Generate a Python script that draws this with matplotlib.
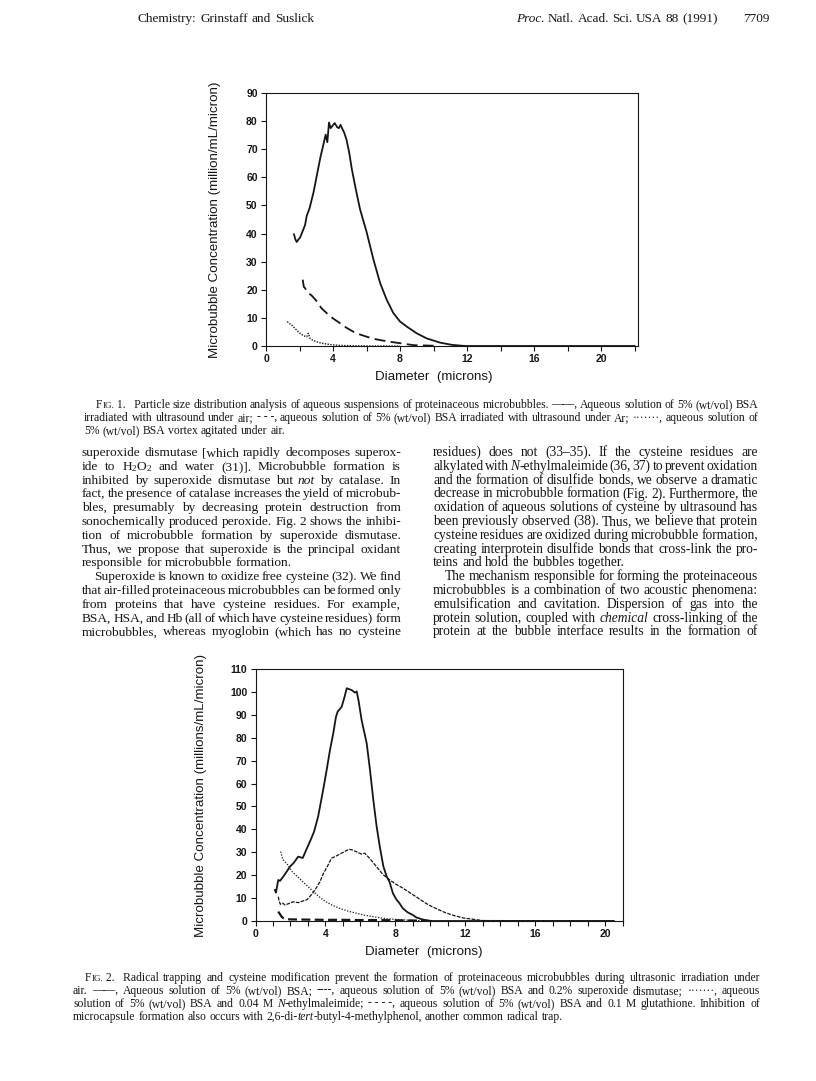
import matplotlib
matplotlib.use("Agg")
import matplotlib.pyplot as plt
from matplotlib.ticker import MultipleLocator

W, H, DPI = 816, 1081, 100
SERIF = "Liberation Serif"
SANS = "Liberation Sans"
INK = "#161616"

# ---- Fig. 1 data (diameter in microns, concentration in million/mL/micron)
air_x = [1.67, 1.75, 1.83, 1.95, 2.03, 2.23, 2.33, 2.43, 2.6, 2.83, 2.93, 3.06, 3.26, 3.4, 3.56,
         3.66, 3.76, 3.86, 4.0, 4.1, 4.25, 4.35, 4.45, 4.55, 4.66, 4.8, 4.96, 5.12, 5.35, 5.61,
         6.01, 6.41, 6.81, 7.2, 7.6, 8.0, 8.4, 9.0, 9.59, 10.39, 11.1, 11.9, 22.0]
air_y = [39.7, 38.0, 37.0, 38.0, 38.5, 41.5, 43.0, 46.3, 49.0, 54.5, 57.5, 61.5, 67.5, 71.0, 75.2,
         72.5, 79.5, 77.5, 78.6, 79.3, 77.8, 77.5, 78.7, 77.3, 76.0, 73.5, 69.0, 63.0, 56.0, 48.7,
         40.4, 30.8, 22.4, 16.5, 11.7, 8.7, 6.9, 4.5, 2.7, 1.2, 0.4, 0.0, 0.0]

argon_x = [2.19, 2.26, 2.33, 2.43, 2.53, 2.75, 3.03, 3.3, 3.62, 4.0, 4.42, 4.8, 5.21, 5.6, 6.01,
           6.4, 6.81, 7.4, 8.0, 8.8, 9.4, 10.0]
argon_y = [23.6, 21.0, 20.6, 19.5, 18.9, 17.8, 15.9, 13.5, 11.7, 9.8, 8.1, 6.5, 5.1, 4.1, 3.3,
           2.6, 2.1, 1.5, 1.0, 0.3, 0.2, 0.1]

vortex_x = [1.27, 1.4, 1.53, 1.63, 1.73, 1.85, 2.03, 2.25, 2.43, 2.5, 2.53, 2.63, 2.8, 3.03, 3.3,
            3.62, 4.0, 4.42, 5.4, 6.5, 8.0]
vortex_y = [8.7, 8.0, 7.5, 6.8, 6.3, 5.5, 4.5, 3.6, 3.3, 4.3, 4.5, 2.7, 2.0, 1.5, 1.0,
            0.7, 0.4, 0.2, 0.05, 0.0, 0.0]

# ---- Fig. 2 data
bsa_x = [1.11, 1.17, 1.3, 1.4, 1.6, 1.78, 1.97, 2.2, 2.44, 2.7, 2.9, 3.11, 3.35, 3.58, 3.87, 4.07,
         4.26, 4.45, 4.6, 4.7, 4.93, 5.1, 5.22, 5.5, 5.69, 5.79, 5.9, 6.07, 6.36, 6.55, 6.74, 6.93,
         7.12, 7.31, 7.5, 7.67, 7.86, 8.05, 8.24, 8.43, 8.7, 9.0, 9.19, 9.5, 9.77, 10.1, 20.5]
bsa_y = [13.5, 12.4, 17.9, 17.5, 19.5, 21.5, 23.7, 25.5, 28.1, 27.5, 31.0, 34.6, 39.0, 45.5, 57.2, 65.9,
         74.6, 82.0, 89.0, 91.4, 93.5, 98.0, 101.6, 100.8, 99.7, 100.2, 96.0, 87.7, 77.6, 65.9, 52.8, 41.2,
         32.0, 24.0, 19.5, 17.0, 12.1, 9.5, 7.7, 5.5, 3.8, 2.6, 1.6, 0.8, 0.3, 0.0, 0.0]

sod_x = [1.3, 1.36, 1.42, 1.55, 1.69, 1.9, 2.16, 2.45, 2.73, 2.95, 3.2, 3.4, 3.68, 3.87, 4.15, 4.35,
         4.6, 4.92, 5.15, 5.35, 5.55, 5.75, 6.06, 6.25, 6.45, 6.72, 7.0, 7.29, 7.67, 8.0, 8.4, 8.9,
         9.4, 9.9, 10.4, 10.9, 11.4, 11.9, 12.4, 13.0, 20.5]
sod_y = [10.6, 8.5, 7.3, 7.8, 7.0, 7.6, 8.4, 8.0, 8.8, 9.3, 11.5, 13.5, 17.0, 20.5, 24.4, 27.4,
         28.3, 29.6, 30.5, 31.3, 31.0, 30.3, 29.2, 29.6, 28.0, 25.6, 23.0, 20.3, 18.0, 16.2, 14.5, 12.0,
         9.5, 7.0, 5.2, 3.5, 2.3, 1.3, 0.8, 0.2, 0.0]

nem_x = [1.44, 1.55, 1.78, 2.1, 2.44, 2.8, 3.11, 3.5, 3.87, 4.3, 4.82, 5.3, 5.77, 6.2, 6.72, 7.2,
         7.67, 8.2, 8.62, 9.2, 10.0]
nem_y = [30.3, 27.0, 25.2, 21.5, 19.1, 16.5, 14.3, 11.5, 9.2, 7.2, 5.5, 4.3, 3.4, 2.6, 1.9, 1.3,
         0.9, 0.6, 0.4, 0.2, 0.0]

glu_x = [1.3, 1.4, 1.49, 1.6, 1.68, 2.0, 3.0, 4.0, 5.0, 6.0, 7.0, 8.0, 9.0, 9.9]
glu_y = [4.1, 3.0, 1.9, 1.2, 0.9, 0.7, 0.6, 0.5, 0.5, 0.4, 0.4, 0.3, 0.2, 0.1]

xtick_labels = ["0", "4", "8", "12", "16", "20"]
fig1_yticks = [0, 10, 20, 30, 40, 50, 60, 70, 80, 90]
fig2_yticks = [0, 10, 20, 30, 40, 50, 60, 70, 80, 90, 100, 110]

# ---- page text
header_left = "Chemistry: Grinstaff and Suslick"
header_right = "*Proc. Natl. Acad. Sci. USA 88 (1991)*"
page_no = "7709"

cap1 = [
    "\tF~ig.~\u00a01.\u00a0\u00a0\u00a0Particle size distribution analysis of aqueous suspensions of proteinaceous microbubbles. \u2014\u2014, Aqueous solution of 5% (wt/vol) BSA",
    "irradiated with ultrasound under air; -\u00a0-\u00a0-, aqueous solution of 5% (wt/vol) BSA irradiated with ultrasound under Ar; \u00b7\u00b7\u00b7\u00b7\u00b7\u00b7\u00b7, aqueous solution of",
    "5% (wt/vol) BSA vortex agitated under air.|",
]
cap2 = [
    "\tF~ig.~\u00a02.\u00a0\u00a0\u00a0Radical trapping and cysteine modification prevent the formation of proteinaceous microbubbles during ultrasonic irradiation under",
    "air. \u2014\u2014, Aqueous solution of 5% (wt/vol) BSA; ----, aqueous solution of 5% (wt/vol) BSA and 0.2% superoxide dismutase; \u00b7\u00b7\u00b7\u00b7\u00b7\u00b7\u00b7, aqueous",
    "solution of 5% (wt/vol) BSA and 0.04 M *N*-ethylmaleimide; -\u00a0-\u00a0-\u00a0-, aqueous solution of 5% (wt/vol) BSA and 0.1 M glutathione. Inhibition of",
    "microcapsule formation also occurs with 2,6-di-*tert*-butyl-4-methylphenol, another common radical trap.|",
]
col_left = [
    "superoxide dismutase [which rapidly decomposes superox-",
    "ide to H$_2$O$_2$ and water (31)]. Microbubble formation is",
    "inhibited by superoxide dismutase but *not* by catalase. In",
    "fact, the presence of catalase increases the yield of microbub-",
    "bles, presumably by decreasing protein destruction from",
    "sonochemically produced peroxide. Fig. 2 shows the inhibi-",
    "tion of microbubble formation by superoxide dismutase.",
    "Thus, we propose that superoxide is the principal oxidant",
    "responsible for microbubble formation.|",
    "\tSuperoxide is known to oxidize free cysteine (32). We find",
    "that air-filled proteinaceous microbubbles can be formed only",
    "from proteins that have cysteine residues. For example,",
    "BSA, HSA, and Hb (all of which have cysteine residues) form",
    "microbubbles, whereas myoglobin (which has no cysteine",
]
col_right = [
    "residues) does not (33\u201335). If the cysteine residues are",
    "alkylated with *N*-ethylmaleimide (36, 37) to prevent oxidation",
    "and the formation of disulfide bonds, we observe a dramatic",
    "decrease in microbubble formation (Fig. 2). Furthermore, the",
    "oxidation of aqueous solutions of cysteine by ultrasound has",
    "been previously observed (38). Thus, we believe that protein",
    "cysteine residues are oxidized during microbubble formation,",
    "creating interprotein disulfide bonds that cross-link the pro-",
    "teins and hold the bubbles together.|",
    "\tThe mechanism responsible for forming the proteinaceous",
    "microbubbles is a combination of two acoustic phenomena:",
    "emulsification and cavitation. Dispersion of gas into the",
    "protein solution, coupled with *chemical* cross-linking of the",
    "protein at the bubble interface results in the formation of",
]

plt.rcParams["mathtext.fontset"] = "custom"
plt.rcParams["mathtext.rm"] = SERIF
plt.rcParams["mathtext.it"] = SERIF + ":italic"

fig = plt.figure(figsize=(W / DPI, H / DPI), dpi=DPI)
fig.patch.set_facecolor("white")
renderer = fig.canvas.get_renderer()


def pos(x, y):
    return x / W, 1 - y / H


def word_parts(word, size):
    parts, buf, ital, small = [], "", False, False
    for ch in word:
        if ch in "*~":
            if buf:
                parts.append((buf.upper() if small else buf, ital, size * 0.78 if small else size))
            buf = ""
            if ch == "*":
                ital = not ital
            else:
                small = not small
        else:
            buf += ch
    if buf:
        parts.append((buf.upper() if small else buf, ital, size * 0.78 if small else size))
    return parts


def measure(s, ital, size):
    t = fig.text(0, 0, s, fontsize=size, family=SERIF, style="italic" if ital else "normal")
    w = t.get_window_extent(renderer).width
    t.remove()
    return w


def prep(line, size):
    words = []
    for w in line.split(" "):
        if not w:
            continue
        parts = word_parts(w, size)
        widths = [measure(s, it, sz) for s, it, sz in parts]
        words.append((parts, widths))
    return words


def text_block(lines, x0, x1, y0, dy, size, indent=12, min_gap=0.1):
    # one size for the whole block: the largest at which every justified line fits
    for line in lines:
        if line.endswith("|"):
            continue
        ind = indent if line.startswith("\t") else 0
        words = prep(line.strip("\t"), size)
        total = sum(sum(ws) for _, ws in words)
        need = total + min_gap * size * DPI / 72 * (len(words) - 1)
        if need > x1 - x0 - ind:
            size = size * (x1 - x0 - ind) / need
    for i, line in enumerate(lines):
        ragged = line.endswith("|")
        ind = indent if line.startswith("\t") else 0
        words = prep(line.strip("\t|"), size)
        total = sum(sum(ws) for _, ws in words)
        if ragged or len(words) < 2:
            gap = 0.25 * size * DPI / 72
        else:
            gap = (x1 - x0 - ind - total) / (len(words) - 1)
        x = x0 + ind
        y = y0 + i * dy
        for parts, widths in words:
            xx = x
            for (s, it, psz), w in zip(parts, widths):
                fig.text(*pos(xx, y), s, fontsize=psz, family=SERIF, color=INK,
                         style="italic" if it else "normal", ha="left", va="baseline")
                xx += w
            x += sum(widths) + gap


def chart(l, t, r, b, xmax, ymax, xminor, yticks, ylabel, ylab_x, xlab_x, xlab_y):
    ax = fig.add_axes([l / W, 1 - b / H, (r - l) / W, (b - t) / H])
    ax.set_xlim(0, xmax)
    ax.set_ylim(0, ymax)
    ax.set_xticks([float(v) for v in xtick_labels], xtick_labels,
                  fontsize=7.5, fontweight="bold", family=SANS)
    ax.set_yticks(yticks, [str(v) for v in yticks], fontsize=7.5, fontweight="bold", family=SANS)
    ax.xaxis.set_minor_locator(MultipleLocator(xminor))
    ax.tick_params(which="both", direction="out", length=3.5, width=0.8, color=INK,
                   labelcolor=INK, pad=2.5)
    for sp in ax.spines.values():
        sp.set_linewidth(0.8)
        sp.set_color(INK)
    fig.text(*pos(ylab_x, (t + b) / 2), ylabel, rotation=90, fontsize=9.6, family=SANS,
             color=INK, ha="center", va="center")
    fig.text(*pos(xlab_x, xlab_y), "Diameter  (microns)", fontsize=9.6, family=SANS,
             color=INK, ha="center", va="center")
    return ax


# ---- Fig. 1
ax1 = chart(266, 93, 638, 346, 22.2, 90, 2, fig1_yticks,
            "Microbubble Concentration (million/mL/micron)", 215, 434, 377)
ax1.plot(air_x, air_y, color=INK, lw=1.3)
ax1.plot(argon_x, argon_y, color=INK, lw=1.3, linestyle=(0, (6, 3)))
ax1.plot(vortex_x, vortex_y, color=INK, lw=1.0, linestyle=(0, (1, 1)))

# ---- Fig. 2
ax2 = chart(255.5, 669, 622.6, 921, 21, 110, 1, fig2_yticks,
            "Microbubble Concentration (millions/mL/micron)", 201, 424, 952)
ax2.plot(bsa_x, bsa_y, color=INK, lw=1.3)
ax2.plot(sod_x, sod_y, color=INK, lw=0.9, linestyle=(0, (3, 1)))
ax2.plot(nem_x, nem_y, color=INK, lw=0.9, linestyle=(0, (1, 1.3)))
ax2.plot(glu_x, glu_y, color=INK, lw=1.6, linestyle=(0, (4, 2)))

# ---- page text
text_block([header_left], 138, 314, 22, 0, 9.5)
text_block([header_right], 516, 718, 22, 0, 9.5)
fig.text(*pos(769, 22), page_no, fontsize=9.5, family=SERIF, color=INK, ha="right", va="baseline")

text_block(cap1, 84, 758, 408, 13, 8.4)
text_block(col_left, 82, 401, 456, 13.8, 9.8)
text_block(col_right, 433, 758, 456, 13.8, 9.8)
text_block(cap2, 73, 760, 981, 13, 8.4)

fig.savefig("out.png", dpi=DPI)
